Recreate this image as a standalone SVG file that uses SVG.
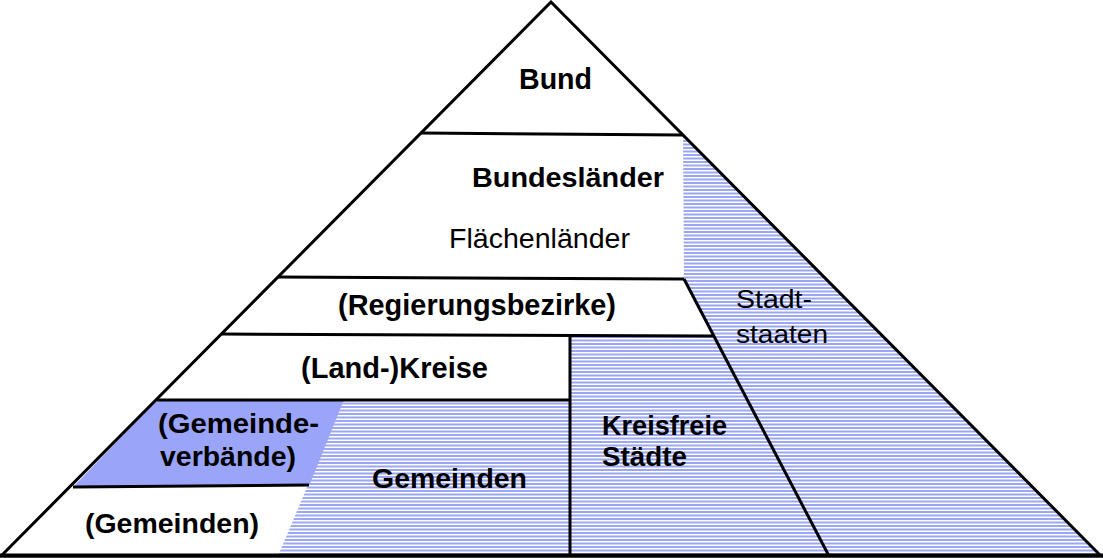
<svg xmlns="http://www.w3.org/2000/svg" width="1103" height="558" viewBox="0 0 1103 558">
<style>
.b{font-family:"Liberation Sans",Arial,sans-serif;font-weight:bold;fill:#000}
.r{font-family:"Liberation Sans",Arial,sans-serif;fill:#000}
.ln{stroke:#000;stroke-width:3;fill:none}
.hatch{fill:url(#hp);stroke:none}
</style>
<defs>
<pattern id="hp" patternUnits="userSpaceOnUse" width="8" height="7">
<rect x="0" y="0" width="8" height="7" fill="#fff"/>
<rect x="0" y="0" width="8" height="2" fill="#9ba7f5"/>
<rect x="0" y="3.5" width="8" height="2" fill="#9ba7f5"/>
</pattern>
</defs>
<rect width="1103" height="558" fill="#fff"/>
<g id="stadtstaaten">
<polygon class="hatch" points="683,135 1101,556 829,556 684,279"/>
<text class="r" font-size="26.5" x="736" y="308" textLength="76" lengthAdjust="spacingAndGlyphs">Stadt-</text>
<text class="r" font-size="26.5" x="736" y="343" textLength="92" lengthAdjust="spacingAndGlyphs">staaten</text>
</g>
<g id="kreisfreie">
<polygon class="hatch" points="570,335 713,335 829,556 570,556"/>
<text class="b" font-size="28.5" x="602" y="435" textLength="125" lengthAdjust="spacingAndGlyphs">Kreisfreie</text>
<text class="b" font-size="28.5" x="602" y="466" textLength="85" lengthAdjust="spacingAndGlyphs">Städte</text>
</g>
<g id="gemeinden">
<polygon class="hatch" points="344,400 570,400 570,556 278,556"/>
<text class="b" font-size="28.5" x="372" y="488" textLength="155" lengthAdjust="spacingAndGlyphs">Gemeinden</text>
</g>
<g id="gemeindeverbaende">
<polygon fill="#9aa5fa" points="157,400 344,400 309,486 73,487"/>
<text class="b" font-size="28.5" x="158" y="433" textLength="161" lengthAdjust="spacingAndGlyphs">(Gemeinde-</text>
<text class="b" font-size="28.5" x="160" y="466" textLength="136" lengthAdjust="spacingAndGlyphs">verbände)</text>
</g>
<g id="gemeinden-klammer">
<text class="b" font-size="28.5" x="85" y="533" textLength="174" lengthAdjust="spacingAndGlyphs">(Gemeinden)</text>
</g>
<g id="bund">
<text class="b" font-size="29" x="519" y="89" textLength="73" lengthAdjust="spacingAndGlyphs">Bund</text>
</g>
<g id="bundeslaender">
<text class="b" font-size="28.5" x="472" y="187" textLength="192" lengthAdjust="spacingAndGlyphs">Bundesländer</text>
<text class="r" font-size="27" x="449" y="248" textLength="181" lengthAdjust="spacingAndGlyphs">Flächenländer</text>
</g>
<g id="regierungsbezirke">
<text class="b" font-size="29" x="338" y="315" textLength="278" lengthAdjust="spacingAndGlyphs">(Regierungsbezirke)</text>
</g>
<g id="landkreise">
<text class="b" font-size="29" x="301" y="378" textLength="187" lengthAdjust="spacingAndGlyphs">(Land-)Kreise</text>
</g>
<g id="connectors">
<line class="ln" x1="421" y1="133" x2="683" y2="135"/>
<line class="ln" x1="278" y1="277" x2="684" y2="279"/>
<line class="ln" x1="684" y1="279" x2="829" y2="556"/>
<line class="ln" x1="222" y1="334" x2="713" y2="336"/>
<line class="ln" x1="570" y1="336" x2="570" y2="556"/>
<line class="ln" x1="157" y1="400" x2="570" y2="400"/>
<line class="ln" x1="73" y1="487" x2="309" y2="485"/>
<polygon points="551,2 1101,556 1,556" fill="none" stroke="#000" stroke-width="3" stroke-linejoin="miter"/>
<line x1="0" y1="555.5" x2="1103" y2="555.5" stroke="#000" stroke-width="4"/>
</g>
</svg>
